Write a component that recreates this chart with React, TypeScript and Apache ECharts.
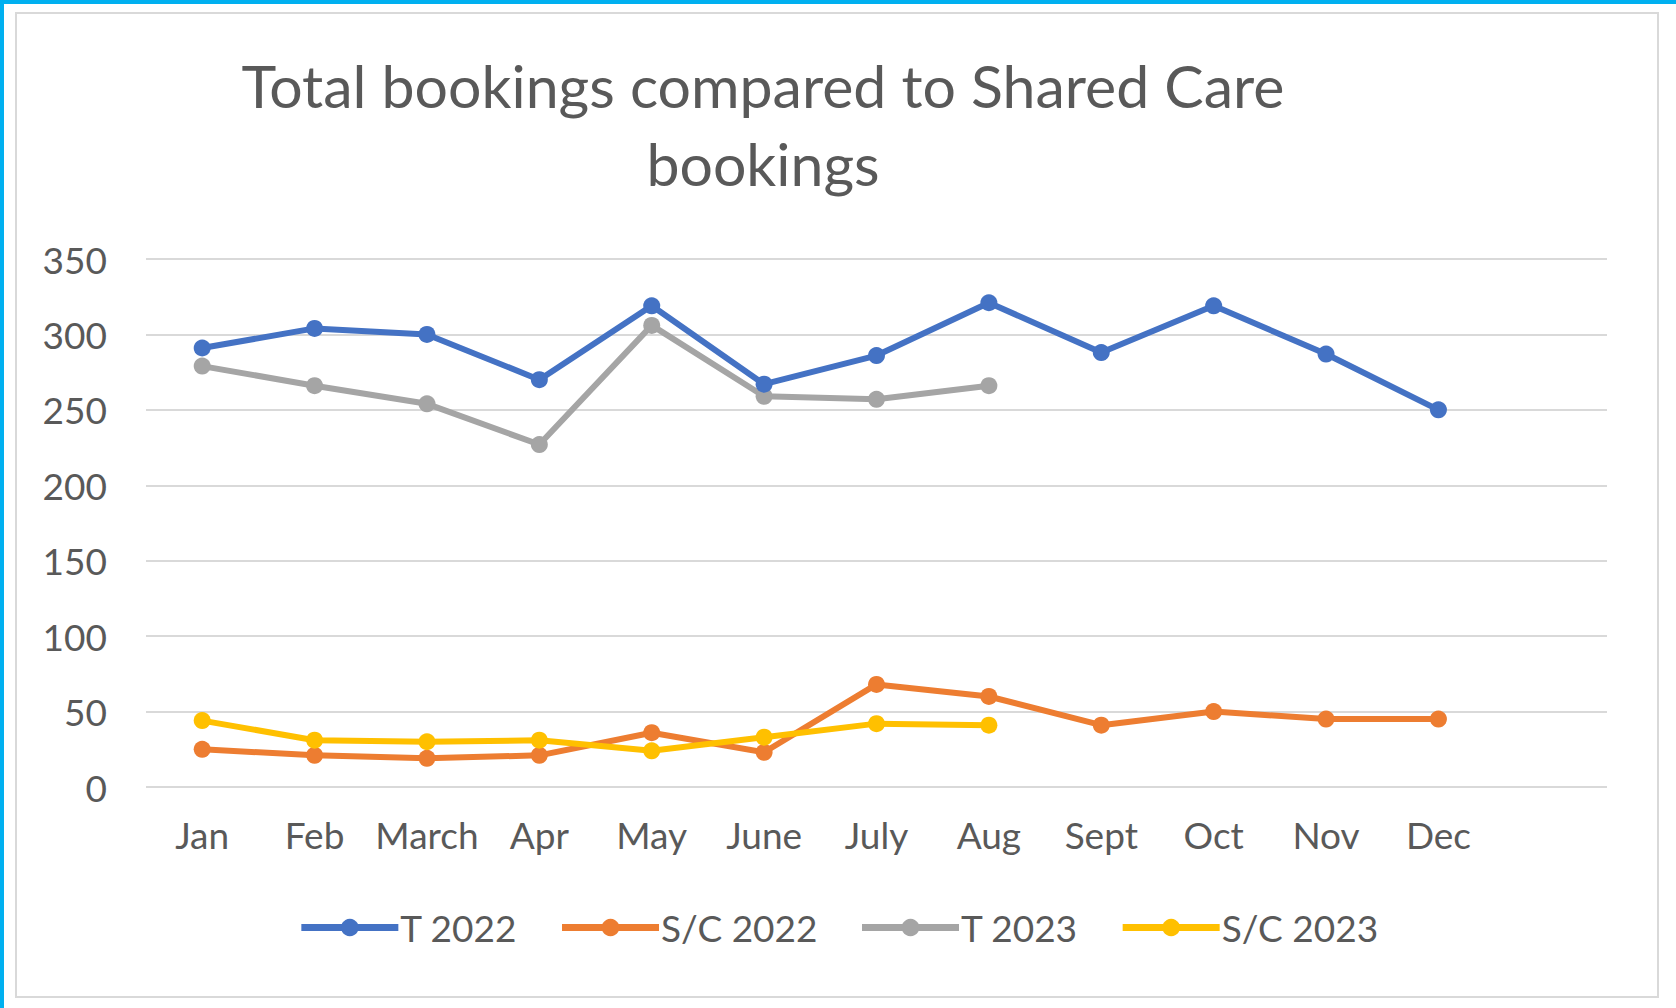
import React, { useEffect, useRef } from "react";
import * as echarts from "echarts";

const months = ["Jan", "Feb", "March", "Apr", "May", "June", "July", "Aug", "Sept", "Oct", "Nov", "Dec", ""];
const t2022 = [291, 304, 300, 270, 319, 267, 286, 321, 288, 319, 287, 250];
const sc2022 = [25, 21, 19, 21, 36, 23, 68, 60, 41, 50, 45, 45];
const t2023 = [279, 266, 254, 227, 306, 259, 257, 266];
const sc2023 = [44, 31, 30, 31, 24, 33, 42, 41];
const seriesNames = ["T 2022", "S/C 2022", "T 2023", "S/C 2023"];
const colors = ["#4472C4", "#ED7D31", "#A5A5A5", "#FFC000"];
const titleLines = ["Total bookings compared to Shared Care", "bookings"];

const FONT = "Lato";

export default function App() {
  const ref = useRef<HTMLDivElement>(null);
  useEffect(() => {
    if (!ref.current) return;
    const chart = echarts.init(ref.current, null, { renderer: "svg" });
    const data = [t2022, sc2022, t2023, sc2023];
    chart.setOption({
      animation: false,
      backgroundColor: "#ffffff",
      textStyle: { fontFamily: FONT },
      graphic: [
        { type: "rect", shape: { x: 0, y: 0, width: 1676, height: 4 }, style: { fill: "#00B0F0" }, z: 10 },
        { type: "rect", shape: { x: 0, y: 0, width: 4, height: 1008 }, style: { fill: "#00B0F0" }, z: 10 },
        {
          type: "rect",
          shape: { x: 16, y: 13, width: 1642, height: 984 },
          style: { fill: "none", stroke: "#D9D9D9", lineWidth: 2 },
          z: 10,
        },
        {
          type: "text",
          x: 763,
          y: 85,
          style: {
            text: titleLines[0],
            fill: "#595959",
            font: `59px ${FONT}`,
            textAlign: "center",
            textVerticalAlign: "middle",
          },
        },
        {
          type: "text",
          x: 763,
          y: 163,
          style: {
            text: titleLines[1],
            fill: "#595959",
            font: `59px ${FONT}`,
            textAlign: "center",
            textVerticalAlign: "middle",
          },
        },
      ],
      legend: {
        data: seriesNames,
        left: "center",
        top: 904,
        itemWidth: 97,
        itemHeight: 22,
        itemGap: 41,
        lineStyle: { width: 7 },
        textStyle: { color: "#595959", fontSize: 37, fontFamily: FONT, padding: [0, 0, 0, -3] },
      },
      grid: { left: 146, right: 69, top: 259, bottom: 221, containLabel: false },
      xAxis: {
        type: "category",
        data: months,
        boundaryGap: true,
        axisLine: { show: false },
        axisTick: { show: false },
        axisLabel: { color: "#595959", fontSize: 37, margin: 29, interval: 0 },
      },
      yAxis: {
        type: "value",
        min: 0,
        max: 350,
        interval: 50,
        axisLine: { show: false },
        axisTick: { show: false },
        axisLabel: { color: "#595959", fontSize: 37, margin: 39, padding: [0, 0, 7, 0] },
        splitLine: { lineStyle: { color: "#D9D9D9", width: 2 } },
      },
      series: seriesNames.map((name, i) => ({
        name,
        type: "line",
        data: data[i],
        symbol: "circle",
        symbolSize: 17,
        color: colors[i],
        lineStyle: { width: 6, color: colors[i] },
        itemStyle: { color: colors[i] },
        z: i === 0 ? 4 : i === 2 ? 3 : i === 1 ? 2 : 5,
      })),
    });
    return () => chart.dispose();
  }, []);
  return (
    <div
      ref={ref}
      style={{ position: "fixed", left: 0, top: 0, width: 1676, height: 1008 }}
    />
  );
}
